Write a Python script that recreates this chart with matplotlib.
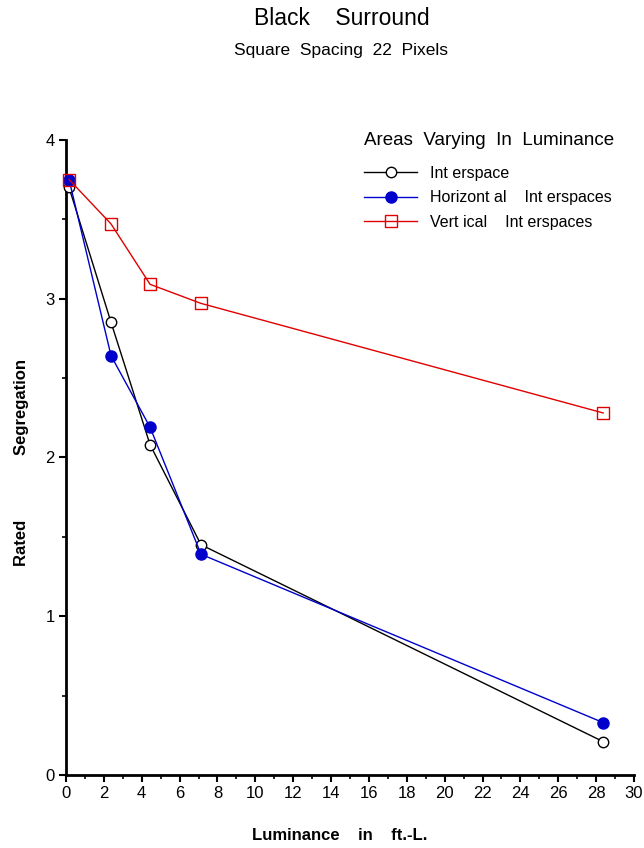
import matplotlib
matplotlib.use("Agg")
import matplotlib.pyplot as plt
from matplotlib.ticker import MultipleLocator

plt.rcParams["font.family"] = ["Liberation Sans", "DejaVu Sans"]

# luminance (ft.-L.) and rated segregation
luminance = [0.16, 2.38, 4.44, 7.13, 28.37]
interspace = [3.70, 2.85, 2.08, 1.45, 0.21]
horizontal = [3.75, 2.64, 2.19, 1.39, 0.33]
vertical = [3.75, 3.47, 3.09, 2.97, 2.28]

fig = plt.figure(figsize=(6.44, 8.48), dpi=100)
ax = fig.add_axes([0.1025, 0.0861, 0.882, 0.749])

ax.plot(luminance, interspace, color="black", lw=1, marker="o", ms=7.5,
        mfc="white", mec="black", mew=1, label="Int erspace", clip_on=False, zorder=3)
ax.plot(luminance, horizontal, color="#0000CC", lw=1, marker="o", ms=8,
        mfc="#0000CC", mec="#0000CC", label="Horizont al    Int erspaces",
        clip_on=False, zorder=4)
ax.plot(luminance, vertical, color="#E00000", lw=1, marker="s", ms=8,
        mfc="none", mec="#E00000", mew=1, label="Vert ical    Int erspaces",
        clip_on=False, zorder=5)

ax.set_xlim(0, 30)
ax.set_ylim(0, 4)
ax.xaxis.set_major_locator(MultipleLocator(2))
ax.xaxis.set_minor_locator(MultipleLocator(1))
ax.yaxis.set_major_locator(MultipleLocator(1))
ax.yaxis.set_minor_locator(MultipleLocator(0.5))
ax.tick_params(which="major", length=5, width=1.5, labelsize=12, pad=3)
ax.tick_params(which="minor", length=3, width=1.2)

for s in ["top", "right"]:
    ax.spines[s].set_visible(False)
for s in ["left", "bottom"]:
    ax.spines[s].set_linewidth(2)

fig.text(0.528, 0.0153, "Luminance    in    ft.-L.", ha="center", va="center",
         fontsize=12, fontweight="bold")
fig.text(0.034, 0.455, "Rated              Segregation", ha="center", va="center",
         rotation=90, fontsize=12, fontweight="bold")

leg = ax.legend(loc="upper left", bbox_to_anchor=(0.5, 1.035), frameon=False,
                title="Areas  Varying  In  Luminance", title_fontsize=13.5,
                fontsize=11.5, handlelength=3.3, handletextpad=0.8,
                labelspacing=0.6, alignment="left")
leg._legend_box.sep = 12

fig.text(0.53, 0.978, "Black    Surround", ha="center", va="center", fontsize=16.5)
fig.text(0.53, 0.941, "Square  Spacing  22  Pixels", ha="center", va="center", fontsize=12.5)

fig.savefig("out.png", dpi=100)
